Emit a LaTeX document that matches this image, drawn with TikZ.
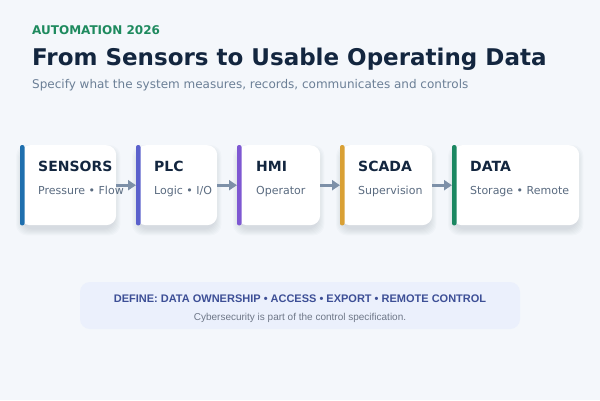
\documentclass[tikz,border=0pt]{standalone}
\usepackage{fontspec}
\setmainfont{DejaVu Sans}
\newfontfamily\arialf{Liberation Sans}
\usetikzlibrary{arrows.meta}
\pgfdeclarelayer{background}
\pgfsetlayers{background,main}
\definecolor{bg}{HTML}{F4F7FB}
\definecolor{kick}{HTML}{1E8A5E}
\definecolor{ttl}{HTML}{13263F}
\definecolor{sub}{HTML}{6B7F96}
\definecolor{cbody}{HTML}{5A6B80}
\definecolor{arr}{HTML}{7D90A8}
\definecolor{cblue}{HTML}{1F6FAE}
\definecolor{cindigo}{HTML}{5B61CC}
\definecolor{cpurple}{HTML}{7E58D2}
\definecolor{camber}{HTML}{D9A034}
\definecolor{cgreen}{HTML}{1B8761}
\definecolor{notefill}{HTML}{EBF0FC}
\definecolor{notetext}{HTML}{3D4F96}
\definecolor{notesub}{HTML}{6E7788}
\definecolor{shade}{HTML}{1E3250}
\tikzset{
  cardbox/.style={fill=white, rounded corners=10pt, minimum height=80pt, inner sep=0pt, anchor=north west},
  shadowlayer/.style={fill=shade, fill opacity=0.02, rounded corners=11pt},
  bar/.style={fill=#1, rounded corners=2pt},
  cardtitle/.style={anchor=base west, inner sep=0pt, text=ttl, font=\bfseries\fontsize{14}{17}\selectfont},
  cardsub/.style={anchor=base west, inner sep=0pt, text=cbody, font=\fontsize{11}{13}\selectfont},
  flow/.style={draw=arr, line width=3pt, -{Triangle[length=8pt,width=10pt]}}
}
\begin{document}
\begin{tikzpicture}[x=1pt,y=-1pt]
\useasboundingbox (0,0) rectangle (600,400);
\begin{pgfonlayer}{background}
\fill[bg] (0,0) rectangle (600,400);
\end{pgfonlayer}
% header
\node[anchor=base west, inner sep=0pt, text=kick, font=\bfseries\fontsize{12}{15}\selectfont] (kicker) at (32,34) {AUTOMATION 2026};
\node[anchor=base west, inner sep=0pt, text=ttl, font=\bfseries\fontsize{23}{28}\selectfont] (title) at (32,65) {From Sensors to Usable Operating Data};
\node[anchor=base west, inner sep=0pt, text=sub, font=\fontsize{12}{15}\selectfont] (subtitle) at (32,88) {Specify what the system measures, records, communicates and controls};
% cards
\node[cardbox, minimum width=96pt] (s) at (20,145) {};
\node[cardbox, minimum width=81pt] (p) at (136,145) {};
\node[cardbox, minimum width=83pt] (h) at (237,145) {};
\node[cardbox, minimum width=92pt] (c) at (340,145) {};
\node[cardbox, minimum width=127pt] (d) at (452,145) {};
\begin{pgfonlayer}{background}
\foreach \n in {s,p,h,c,d}{
  \foreach \k in {0,1,...,6}{
    \fill[shadowlayer] ([xshift=-\k pt+2pt, yshift=-4pt+\k pt-2pt]\n.north west) rectangle ([xshift=\k pt-2pt, yshift=-4pt-\k pt]\n.south east);
  }
}
\end{pgfonlayer}
\fill[bar=cblue] (s.north west) rectangle ([xshift=4.5pt]s.south west);
\fill[bar=cindigo] (p.north west) rectangle ([xshift=4.5pt]p.south west);
\fill[bar=cpurple] (h.north west) rectangle ([xshift=4.5pt]h.south west);
\fill[bar=camber] (c.north west) rectangle ([xshift=4.5pt]c.south west);
\fill[bar=cgreen] (d.north west) rectangle ([xshift=4.5pt]d.south west);
\node[cardtitle] (st) at (38,171) {SENSORS};
\node[cardsub] (ss) at (38,194) {Pressure • Flow};
\node[cardtitle] (pt) at (154,171) {PLC};
\node[cardsub] (ps) at (154,194) {Logic • I/O};
\node[cardtitle] (ht) at (256,171) {HMI};
\node[cardsub] (hs) at (256,194) {Operator};
\node[cardtitle] (ct) at (358,171) {SCADA};
\node[cardsub] (cs) at (358,194) {Supervision};
\node[cardtitle] (dt) at (470,171) {DATA};
\node[cardsub] (ds) at (470,194) {Storage • Remote};
% connectors
\draw[flow] (s.east) -- (p.west);
\draw[flow] (p.east) -- (h.west);
\draw[flow] (h.east) -- (c.west);
\draw[flow] (c.east) -- (d.west);
% note
\node[fill=notefill, rounded corners=10pt, minimum width=440pt, minimum height=47pt, inner sep=0pt] (note) at (300,305.5) {};
\node[anchor=base, inner sep=0pt, text=notetext, font=\arialf\bfseries\fontsize{11}{13}\selectfont] (notet) at (300,302.5) {DEFINE: DATA OWNERSHIP • ACCESS • EXPORT • REMOTE CONTROL};
\node[anchor=base, inner sep=0pt, text=notesub, font=\arialf\fontsize{10}{12}\selectfont] (notes) at (300,320.5) {Cybersecurity is part of the control specification.};
\end{tikzpicture}
\end{document}
